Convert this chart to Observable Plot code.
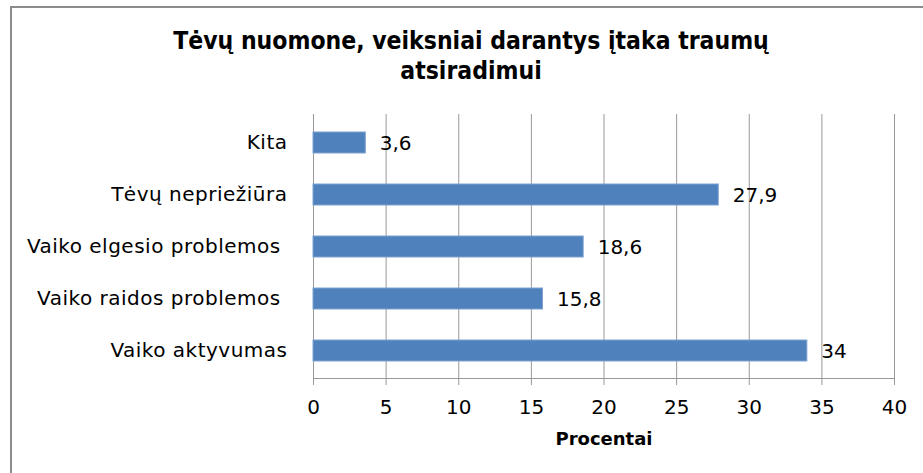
<!DOCTYPE html>
<html>
<head>
<meta charset="utf-8">
<script src="https://cdn.jsdelivr.net/npm/d3@7"></script>
<script src="https://cdn.jsdelivr.net/npm/@observablehq/plot@0.6"></script>
<style>
  html, body { margin: 0; padding: 0; background: #fff; }
  body { width: 923px; height: 473px; position: relative; overflow: hidden; }
  #frame { position: absolute; left: 10px; top: 6px; width: 913px; height: 467px;
           border-left: 2px solid #8c8c8c; border-top: 2px solid #8c8c8c; box-sizing: border-box; }
  #title { position: absolute; left: 20px; width: 902px; top: 26px; text-align: center;
           font-family: "DejaVu Sans Condensed", "DejaVu Sans"; font-stretch: condensed; font-weight: bold;
           font-size: 24.5px; line-height: 30px; color: #000; }
  #chart { position: absolute; left: 0; top: 100px; }
  .ylab text { letter-spacing: 0.5px; }
</style>
</head>
<body>
<div id="frame"></div>
<div id="title">Tėvų nuomone, veiksniai darantys įtaka traumų<br>atsiradimui</div>
<div id="chart"></div>
<script>
const categories = ["Kita", "Tėvų nepriežiūra", "Vaiko elgesio problemos\u00a0", "Vaiko raidos problemos\u00a0", "Vaiko aktyvumas"];
const values = [3.6, 27.9, 18.6, 15.8, 34];
const xTicks = [0, 5, 10, 15, 20, 25, 30, 35, 40];
const axisTitle = "Procentai";

const data = categories.map((c, i) => ({category: c, value: values[i]}));
const fmt = v => String(v).replace(".", ",");

const chart = Plot.plot({
  width: 923,
  height: 373,
  marginTop: 14,
  marginBottom: 95,
  marginLeft: 313,
  marginRight: 29,
  style: {fontFamily: "DejaVu Sans", fontSize: "20px", color: "#000", background: "transparent", overflow: "visible"},
  x: {domain: [0, 40]},
  y: {domain: categories, paddingInner: 0.6, paddingOuter: 0.3},
  marks: [
    Plot.gridX(xTicks, {stroke: "#999", strokeOpacity: 1}),
    Plot.frame({anchor: "bottom", stroke: "#999"}),
    Plot.axisX({ticks: xTicks, tickSize: 7, tickPadding: 14, stroke: "#999", fill: "#000", label: null, fontSize: 20}),
    Plot.axisY({tickSize: 0, tickPadding: 26, label: null, fill: "#000", fontSize: 20, className: "ylab"}),
    Plot.barX(data, {x: "value", y: "category", fill: "#4F81BD", stroke: "#7EA3D3", strokeWidth: 1}),
    Plot.text(data, {x: "value", y: "category", text: d => fmt(d.value), textAnchor: "start", dx: 14, dy: 1, fill: "#000", fontSize: 20}),
    Plot.text([axisTitle], {frameAnchor: "bottom", text: d => d, lineAnchor: "middle", dy: 61, fontWeight: "bold", fontSize: 18, fill: "#000"})
  ]
});
document.getElementById("chart").appendChild(chart);
</script>
</body>
</html>
